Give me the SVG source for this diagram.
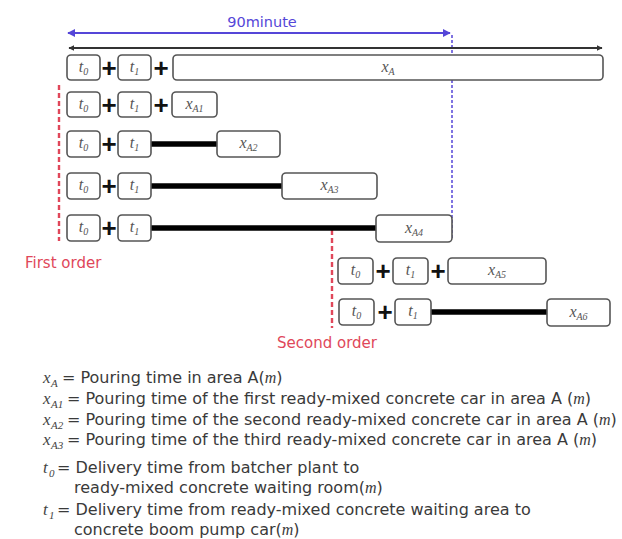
<svg xmlns="http://www.w3.org/2000/svg" width="622" height="539" viewBox="0 0 622 539">
  <style>
    .box { fill: #ffffff; stroke: #555555; stroke-width: 1.6; }
    .lbl { font-family: "Liberation Serif", serif; font-style: italic; font-size: 16px; fill: #555555; text-anchor: middle; }
    .sub { font-size: 10px; }
    .plus { font-family: "Liberation Sans", Arial, sans-serif; font-weight: bold; font-size: 26px; fill: #111111; text-anchor: middle; }
    .bar { stroke: #000000; stroke-width: 5.5; fill: none; }
    .order { stroke: #e0475a; stroke-width: 2.4; stroke-dasharray: 5 3; fill: none; }
    .ordtxt { font-family: "DejaVu Sans", "Noto Sans", sans-serif; font-size: 15px; fill: #e0475a; }
    .leg { font-family: "DejaVu Sans", "Noto Sans", sans-serif; font-size: 16px; fill: #3a3a3a; }
    .var { font-family: "Liberation Serif", serif; font-style: italic; font-size: 17px; fill: #444444; }
    .vsub { font-family: "Liberation Serif", serif; font-style: italic; font-size: 11px; fill: #444444; }
    .m { font-family: "Liberation Serif", serif; font-style: italic; }
  </style>
  <defs>
    <marker id="blueEnd" viewBox="0 0 10 10" refX="9" refY="5" markerWidth="8" markerHeight="8" markerUnits="userSpaceOnUse" orient="auto-start-reverse">
      <path d="M0,0 L10,5 L0,10 Z" fill="#5546d8"/>
    </marker>
    <marker id="blackEnd" viewBox="0 0 10 10" refX="9" refY="5" markerWidth="6" markerHeight="6" markerUnits="userSpaceOnUse" orient="auto-start-reverse">
      <path d="M0,0 L10,5 L0,10 Z" fill="#333333"/>
    </marker>
  </defs>

  <!-- time span header -->
  <g id="span">
    <text x="262" y="27" font-family="DejaVu Sans, Noto Sans, sans-serif" font-size="14.5" fill="#5546d8" text-anchor="middle">90minute</text>
    <line x1="68" y1="33" x2="450" y2="33" stroke="#5546d8" stroke-width="1.8" marker-start="url(#blueEnd)" marker-end="url(#blueEnd)"/>
    <line x1="452" y1="35" x2="452" y2="240" stroke="#5546d8" stroke-width="1.5" stroke-dasharray="3 2"/>
    <line x1="69" y1="48" x2="602" y2="48" stroke="#333333" stroke-width="2" marker-start="url(#blackEnd)" marker-end="url(#blackEnd)"/>
  </g>

  <!-- order markers -->
  <g id="orders">
    <line class="order" x1="59" y1="85" x2="59" y2="241"/>
    <text class="ordtxt" x="25" y="268">First order</text>
    <line class="order" x1="332" y1="230" x2="332" y2="328"/>
    <text class="ordtxt" x="277" y="348">Second order</text>
  </g>

  <!-- connectors -->
  <g id="connectors">
    <line class="bar" x1="151" y1="144" x2="217" y2="144"/>
    <line class="bar" x1="151" y1="186" x2="282" y2="186"/>
    <line class="bar" x1="151" y1="228" x2="376" y2="228"/>
    <line class="bar" x1="431" y1="312" x2="547" y2="312"/>
  </g>

  <!-- row 1 -->
  <g id="row1">
    <rect class="box" x="67" y="55" width="33" height="25" rx="4"/>
    <text class="lbl" x="83.5" y="72">t<tspan class="sub" dy="3">0</tspan></text>
    <text class="plus" x="109" y="77">+</text>
    <rect class="box" x="118" y="55" width="33" height="25" rx="4"/>
    <text class="lbl" x="134.5" y="72">t<tspan class="sub" dy="3">1</tspan></text>
    <text class="plus" x="161" y="77">+</text>
    <rect class="box" x="173" y="55" width="430" height="25" rx="4"/>
    <text class="lbl" x="388" y="72">x<tspan class="sub" dy="3">A</tspan></text>
  </g>

  <!-- row 2 -->
  <g id="row2">
    <rect class="box" x="67" y="92" width="33" height="25" rx="4"/>
    <text class="lbl" x="83.5" y="109">t<tspan class="sub" dy="3">0</tspan></text>
    <text class="plus" x="109" y="114">+</text>
    <rect class="box" x="118" y="92" width="33" height="25" rx="4"/>
    <text class="lbl" x="134.5" y="109">t<tspan class="sub" dy="3">1</tspan></text>
    <text class="plus" x="161" y="114">+</text>
    <rect class="box" x="172" y="92" width="45" height="25" rx="4"/>
    <text class="lbl" x="194.5" y="109">x<tspan class="sub" dy="3">A1</tspan></text>
  </g>

  <!-- row 3 -->
  <g id="row3">
    <rect class="box" x="67" y="131" width="33" height="26" rx="4"/>
    <text class="lbl" x="83.5" y="148">t<tspan class="sub" dy="3">0</tspan></text>
    <text class="plus" x="109" y="153">+</text>
    <rect class="box" x="118" y="131" width="33" height="26" rx="4"/>
    <text class="lbl" x="134.5" y="148">t<tspan class="sub" dy="3">1</tspan></text>
    <rect class="box" x="217" y="131" width="63" height="26" rx="4"/>
    <text class="lbl" x="248.5" y="148">x<tspan class="sub" dy="3">A2</tspan></text>
  </g>

  <!-- row 4 -->
  <g id="row4">
    <rect class="box" x="67" y="173" width="33" height="26" rx="4"/>
    <text class="lbl" x="83.5" y="190">t<tspan class="sub" dy="3">0</tspan></text>
    <text class="plus" x="109" y="195">+</text>
    <rect class="box" x="118" y="173" width="33" height="26" rx="4"/>
    <text class="lbl" x="134.5" y="190">t<tspan class="sub" dy="3">1</tspan></text>
    <rect class="box" x="282" y="173" width="95" height="26" rx="4"/>
    <text class="lbl" x="329.5" y="190">x<tspan class="sub" dy="3">A3</tspan></text>
  </g>

  <!-- row 5 -->
  <g id="row5">
    <rect class="box" x="67" y="215" width="33" height="26" rx="4"/>
    <text class="lbl" x="83.5" y="232">t<tspan class="sub" dy="3">0</tspan></text>
    <text class="plus" x="109" y="237">+</text>
    <rect class="box" x="118" y="215" width="33" height="26" rx="4"/>
    <text class="lbl" x="134.5" y="232">t<tspan class="sub" dy="3">1</tspan></text>
    <rect class="box" x="376" y="215" width="76" height="27" rx="4"/>
    <text class="lbl" x="414" y="233">x<tspan class="sub" dy="3">A4</tspan></text>
  </g>

  <!-- row 6 -->
  <g id="row6">
    <rect class="box" x="338" y="258" width="35" height="26" rx="4"/>
    <text class="lbl" x="355.5" y="275">t<tspan class="sub" dy="3">0</tspan></text>
    <text class="plus" x="383" y="280">+</text>
    <rect class="box" x="393" y="258" width="35" height="26" rx="4"/>
    <text class="lbl" x="410.5" y="275">t<tspan class="sub" dy="3">1</tspan></text>
    <text class="plus" x="438" y="280">+</text>
    <rect class="box" x="448" y="258" width="98" height="26" rx="4"/>
    <text class="lbl" x="497" y="275">x<tspan class="sub" dy="3">A5</tspan></text>
  </g>

  <!-- row 7 -->
  <g id="row7">
    <rect class="box" x="339" y="299" width="35" height="26" rx="4"/>
    <text class="lbl" x="356.5" y="316">t<tspan class="sub" dy="3">0</tspan></text>
    <text class="plus" x="385" y="321">+</text>
    <rect class="box" x="395" y="299" width="36" height="26" rx="4"/>
    <text class="lbl" x="413" y="316">t<tspan class="sub" dy="3">1</tspan></text>
    <rect class="box" x="547" y="299" width="63" height="27" rx="4"/>
    <text class="lbl" x="578.5" y="317">x<tspan class="sub" dy="3">A6</tspan></text>
  </g>

  <!-- legend -->
  <g id="legend">
    <text class="var" x="43" y="383">x</text><text class="vsub" x="51" y="387">A</text>
    <text class="leg" x="62" y="383">= Pouring time in area A(<tspan class="m">m</tspan>)</text>

    <text class="var" x="43" y="404">x</text><text class="vsub" x="51" y="408">A1</text>
    <text class="leg" x="67" y="404">= Pouring time of the first ready-mixed concrete car in area A (<tspan class="m">m</tspan>)</text>

    <text class="var" x="43" y="425">x</text><text class="vsub" x="51" y="429">A2</text>
    <text class="leg" x="67" y="425">= Pouring time of the second ready-mixed concrete car in area A (<tspan class="m">m</tspan>)</text>

    <text class="var" x="43" y="445">x</text><text class="vsub" x="51" y="449">A3</text>
    <text class="leg" x="67" y="445">= Pouring time of the third ready-mixed concrete car in area A (<tspan class="m">m</tspan>)</text>

    <text class="var" x="43" y="473">t</text><text class="vsub" x="49" y="477">0</text>
    <text class="leg" x="57" y="473">= Delivery time from batcher plant to</text>
    <text class="leg" x="74" y="493">ready-mixed concrete waiting room(<tspan class="m">m</tspan>)</text>

    <text class="var" x="43" y="515">t</text><text class="vsub" x="49" y="519">1</text>
    <text class="leg" x="57" y="515">= Delivery time from ready-mixed concrete waiting area to</text>
    <text class="leg" x="74" y="535">concrete boom pump car(<tspan class="m">m</tspan>)</text>
  </g>
</svg>
